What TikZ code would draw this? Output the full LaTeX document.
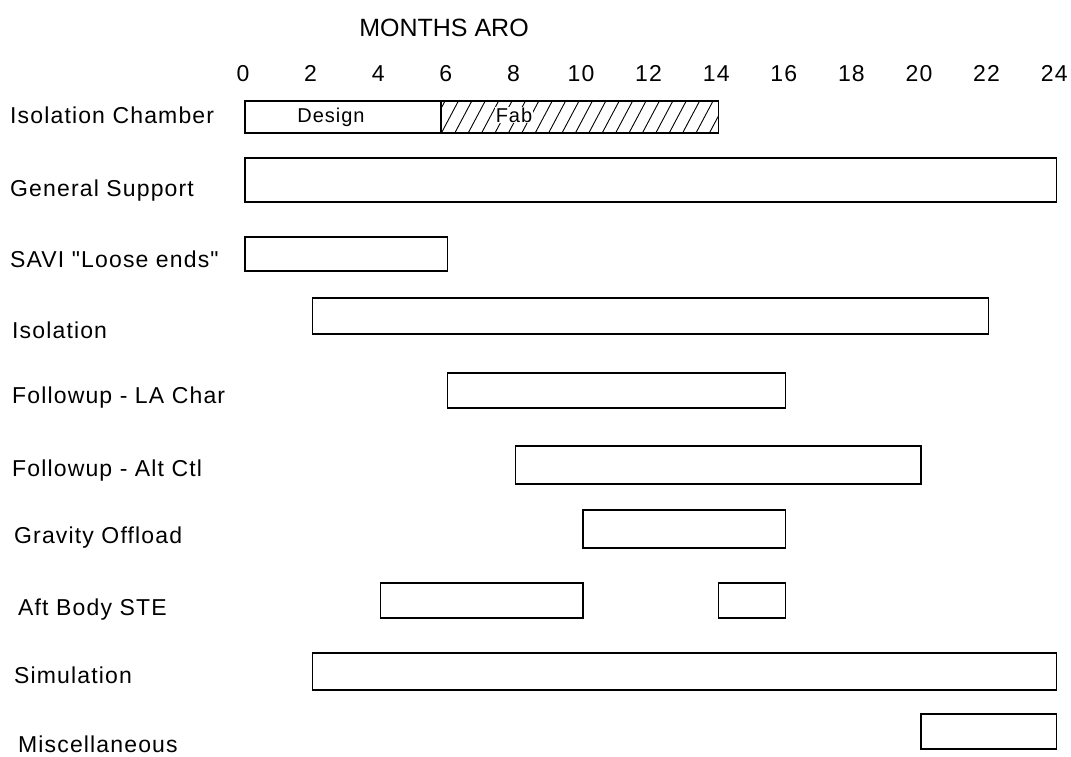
\documentclass[tikz,border=0pt]{standalone}
\usepackage{fontspec}
\setmainfont{Liberation Sans}
\newfontfamily\chartfont[LetterSpace=5]{Liberation Sans}
\tikzset{bar/.style={draw=black, line width=1.3pt, fill=white},
         rowlbl/.style={font=\chartfont\fontsize{23}{26}\selectfont, anchor=base west, inner sep=0pt},
         monlbl/.style={font=\chartfont\fontsize{23}{26}\selectfont, anchor=base, inner sep=0pt},
         inlbl/.style={font=\chartfont\fontsize{20}{22}\selectfont, inner sep=1pt},
         hatch/.style={line width=0.9pt}}
% month -> x position
\newcommand{\mx}[1]{245+33.8*#1}

\begin{document}
\begin{tikzpicture}[x=1pt,y=-1pt]
\useasboundingbox (0,0) rectangle (1071,757);
% title and month scale
\node[font=\fontsize{25}{28}\selectfont, inner sep=0pt] (title) at (444,28) {MONTHS ARO};
\foreach \m in {0,2,...,24} {\node[monlbl] (m\m) at ({\mx{\m}-2},82) {\m};}
% row labels
\foreach \t/\lx/\ly [count=\i] in {Isolation Chamber/10/124, General Support/10/196, SAVI "Loose ends"/10/267,
    Isolation/12/338, Followup - LA Char/12/403, Followup - Alt Ctl/12/476, Gravity Offload/14/543,
    Aft Body STE/18/615, Simulation/14/683, Miscellaneous/18/752}
  {\node[rowlbl] (row\i) at (\lx,\ly) {\t};}
% isolation chamber: design, then fab
\draw[bar] ({\mx{0}},101) rectangle (441,133);
\node[inlbl] (design) at (331,117) {Design};
\begin{scope}
\clip (441,101) rectangle ({\mx{14}},133);
\foreach \h in {0,...,22} {\draw[hatch] ({428+13.4*\h},133) -- ({445+13.4*\h},101);}
\end{scope}
\draw[line width=1.3pt] (441,101) rectangle ({\mx{14}},133);
\node[inlbl, fill=white, inner sep=0.5pt] (fab) at (514,115) {Fab};
% other tasks
\foreach \a/\b/\ya/\yb in {0/24/158/202, 0/6/237/271, 2/22/298/334, 6/16/373/408, 8/20/446/484,
    10/16/510/548, 4/10/583/618, 14/16/583/618, 2/24/653/690, 20/24/714/749}
  {\draw[bar] ({\mx{\a}},\ya) rectangle ({\mx{\b}},\yb);}
\end{tikzpicture}
\end{document}
